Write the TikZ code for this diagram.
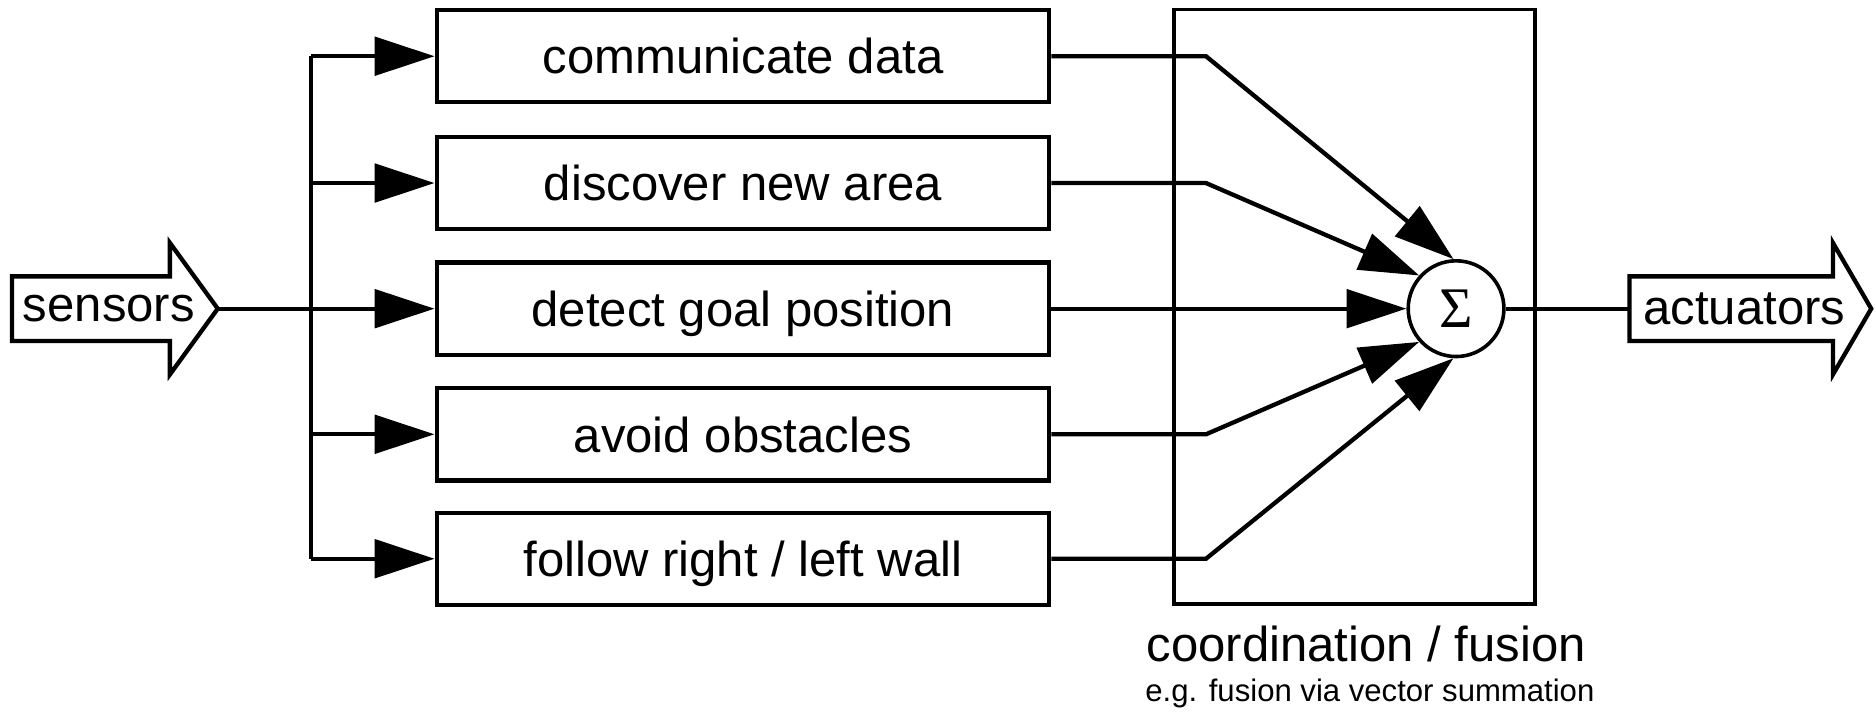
\documentclass[tikz,border=0pt]{standalone}
\usepackage{fontspec}
\setmainfont{Liberation Sans}
\newfontfamily\sigfont{Liberation Serif}
\usetikzlibrary{arrows.meta}
\begin{document}
\begin{tikzpicture}[x=0.5pt,y=-0.5pt,
  line width=1.8pt,
  every node/.style={font=\fontsize{20.5}{24}\selectfont},
  behav/.style={draw, line width=1.8pt, minimum width=256pt, minimum height=38.5pt, inner sep=0pt, text height=14.8pt, text depth=0pt},
  arr/.style={-{Triangle[length=25pt,width=16pt]}, line width=1.8pt, line join=miter},
  fat/.style={draw, line width=1.8pt, line join=miter, fill=white},
  sumnode/.style={circle, draw, line width=1.5pt, minimum size=40pt, inner sep=0pt, font=\sigfont\fontsize{24}{26}\selectfont},
  coordbox/.style={draw, line width=1.6pt, minimum width=151pt, minimum height=248.5pt, inner sep=0pt},
]
\useasboundingbox (0,0) rectangle (1568,599);

% sensors arrow
\draw[fat] (10,231) -- (142,231) -- (142,203) -- (182,258) -- (142,313) -- (142,285) -- (10,285) -- cycle;
\node (sensors) at (91,258) {sensors};
\coordinate (stip) at (182,258);

% behaviour boxes
\node[behav] (b1) at (621,47) {communicate data};
\node[behav] (b2) at (621,153) {discover new area};
\node[behav] (b3) at (621,258) {detect goal position};
\node[behav] (b4) at (621,363) {avoid obstacles};
\node[behav] (b5) at (621,467) {follow right / left wall};

% bus
\coordinate (bus1) at (260,47);
\coordinate (bus2) at (260,153);
\coordinate (bus4) at (260,363);
\coordinate (bus5) at (260,467);
\draw (bus1) -- (bus5);
\draw[arr] (bus1) -- (b1.west);
\draw[arr] (bus2) -- (b2.west);
\draw[arr] (stip) -- (b3.west);
\draw[arr] (bus4) -- (b4.west);
\draw[arr] (bus5) -- (b5.west);

% coordination box
\node[coordbox] (coord) at (1132,256.5) {};
\node[sumnode] (sig) at (1217,258) {Σ};

\coordinate (k1) at (1008,47);
\coordinate (k2) at (1008,153);
\coordinate (k4) at (1008,363);
\coordinate (k5) at (1008,467);
\draw[arr] (b1.east) -- (k1) -- (sig.93);
\draw[arr] (b2.east) -- (k2) -- (sig.138);
\draw[arr] (b3.east) -- (sig.west);
\draw[arr] (b4.east) -- (k4) -- (sig.222);
\draw[arr] (b5.east) -- (k5) -- (sig.267);

\node (cl) at (1142,538) {coordination / fusion};
\node[font=\fontsize{13}{15}\selectfont] (cl2) at (1145,580) {e.g. fusion via vector summation};

% actuators arrow
\draw[fat] (1362,231) -- (1532,231) -- (1532,203) -- (1564,258) -- (1532,313) -- (1532,285) -- (1362,285) -- cycle;
\node (act) at (1458,258) {actuators};
\coordinate (abase) at (1362,258);
\draw (sig.east) -- (abase);
\end{tikzpicture}
\end{document}
